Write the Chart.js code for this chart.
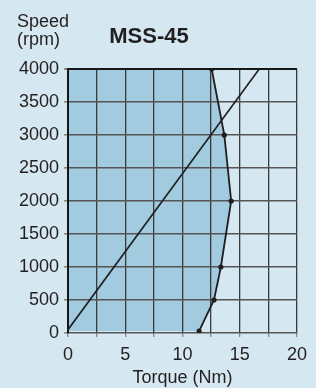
<!DOCTYPE html>
<html>
<head>
<meta charset="utf-8">
<script src="https://cdn.jsdelivr.net/npm/chart.js@4"></script>
<style>
  html, body { margin: 0; padding: 0; background: #d5e7f1; }
  #wrap { width: 316px; height: 388px; position: relative; background: #d5e7f1; }
  canvas { display: block; }
</style>
</head>
<body>
<div id="wrap"><canvas id="c" width="316" height="388"></canvas></div>
<script>
// ---- data ----
const chartTitle = 'MSS-45';
const yTitleLines = ['Speed', '(rpm)'];
const xTitle = 'Torque (Nm)';

// speed-torque limit curve (filled region to its left)
const curveTorque = [11.45, 12.75, 13.35, 14.25, 13.65, 12.55];
const curveSpeed  = [30, 500, 1000, 2000, 3000, 4000];

// straight load line
const lineTorque = [0, 16.7];
const lineSpeed  = [50, 4000];

const xTicksMin = 0, xTicksMax = 20, xGridStep = 2.5, xLabelStep = 5;
const yTicksMin = 0, yTicksMax = 4000, yStep = 500;

const FONT = '"Liberation Sans", Arial, Helvetica, sans-serif';
const TEXT = '#231f20';

const textPlugin = {
  id: 'texts',
  afterDraw(chart) {
    const ctx = chart.ctx;
    ctx.save();
    ctx.fillStyle = TEXT;
    ctx.textAlign = 'left';
    ctx.textBaseline = 'alphabetic';
    ctx.font = '18px ' + FONT;
    ctx.fillText(yTitleLines[0], 17, 27);
    ctx.fillText(yTitleLines[1], 17, 45);
    ctx.textAlign = 'center';
    ctx.font = 'bold 22px ' + FONT;
    ctx.fillText(chartTitle, 149, 43);
    ctx.restore();
  }
};

const curveData = curveTorque.map((t, i) => ({ x: t, y: curveSpeed[i] }));
const lineData = lineTorque.map((t, i) => ({ x: t, y: lineSpeed[i] }));

new Chart(document.getElementById('c'), {
  type: 'line',
  data: {
    datasets: [
      {
        data: curveData,
        borderColor: '#1e1e1e',
        borderWidth: 1.8,
        backgroundColor: '#a3cbe0',
        fill: 'origin',
        pointRadius: 2.6,
        pointBackgroundColor: '#1e1e1e',
        pointBorderWidth: 0,
        tension: 0
      },
      {
        data: lineData,
        borderColor: '#1e1e1e',
        borderWidth: 1.6,
        fill: false,
        pointRadius: 0,
        tension: 0
      }
    ]
  },
  plugins: [textPlugin],
  options: {
    responsive: false,
    animation: false,
    indexAxis: 'y',
    layout: { padding: { left: 0, right: 19, top: 69, bottom: 0 } },
    plugins: {
      legend: { display: false },
      tooltip: { enabled: false },
      filler: { drawTime: 'beforeDraw' }
    },
    scales: {
      x: {
        type: 'linear',
        position: 'bottom',
        min: xTicksMin, max: xTicksMax,
        afterFit(scale) { scale.height = 55; },
        afterBuildTicks(scale) {
          const t = [];
          for (let v = xTicksMin; v <= xTicksMax + 1e-9; v += xGridStep) t.push({ value: v });
          scale.ticks = t;
        },
        ticks: {
          color: TEXT,
          font: { family: FONT, size: 18 },
          padding: 7,
          maxRotation: 0,
          autoSkip: false,
          callback: (v) => (Math.abs(v % xLabelStep) < 1e-9 ? String(v) : '')
        },
        grid: {
          color: '#3a3a3a',
          lineWidth: 1.3,
          tickLength: 4,
          tickColor: '#888'
        },
        border: { display: false },
        title: {
          display: true,
          text: xTitle,
          color: TEXT,
          font: { family: FONT, size: 18, lineHeight: 1 },
          padding: { top: 0, bottom: 1 }
        }
      },
      y: {
        type: 'linear',
        min: yTicksMin, max: yTicksMax,
        afterFit(scale) { scale.width = 68; },
        ticks: {
          stepSize: yStep,
          color: TEXT,
          font: { family: FONT, size: 18 },
          padding: 5,
          callback: (v) => String(v)
        },
        grid: {
          color: (c) => (c.tick && c.tick.value === yTicksMax ? '#161616' : '#555'),
          lineWidth: (c) => (c.tick && c.tick.value === yTicksMax ? 2 : 1.6),
          tickLength: 4,
          tickColor: '#888'
        },
        border: { display: true, color: '#161616', width: 2 }
      }
    }
  }
});
</script>
</body>
</html>
